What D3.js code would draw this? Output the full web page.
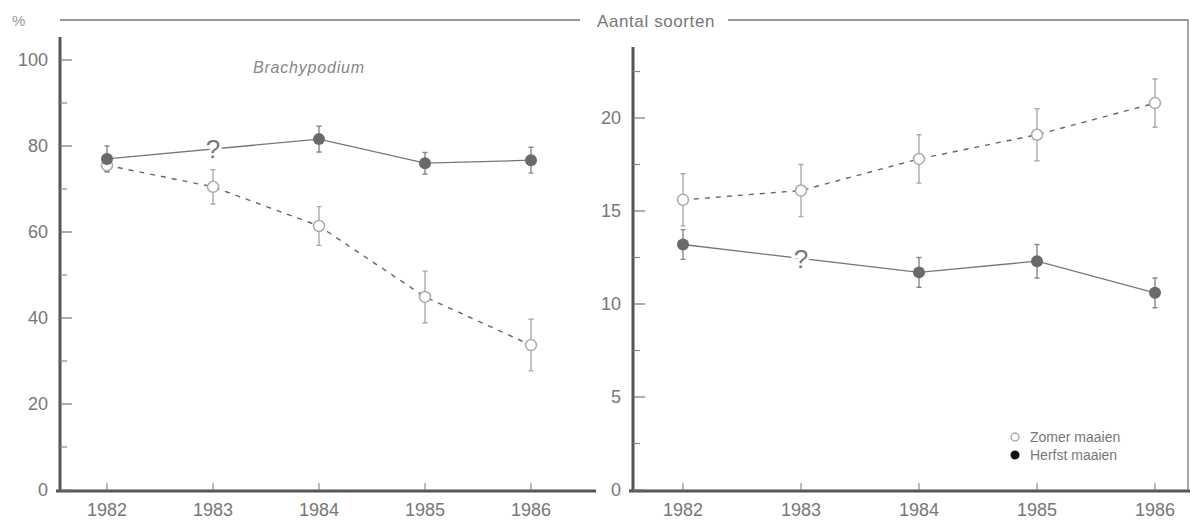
<!DOCTYPE html>
<html>
<head>
<meta charset="utf-8">
<script src="https://cdn.jsdelivr.net/npm/d3@7"></script>
<style>
  body { margin: 0; background: #fff; }
  svg { display: block; font-family: "Liberation Sans", Arial, sans-serif; }
</style>
</head>
<body>
<div id="chart"></div>
<script>
const years = [1982, 1983, 1984, 1985, 1986];

// left panel: % Brachypodium
const brachyZomer     = [75.5, 70.5, 61.4, 44.9, 33.7];
const brachyZomerErr  = [1.5, 4, 4.5, 6, 6];
const brachyHerfst    = [77, null, 81.6, 76, 76.7];
const brachyHerfstErr = [3, null, 3, 2.5, 3];
const leftTicks  = [0, 20, 40, 60, 80, 100];
const leftMinor  = [10, 30, 50, 70, 90];

// right panel: aantal soorten
const soortenZomer     = [15.6, 16.1, 17.8, 19.1, 20.8];
const soortenZomerErr  = [1.4, 1.4, 1.3, 1.4, 1.3];
const soortenHerfst    = [13.2, null, 11.7, 12.3, 10.6];
const soortenHerfstErr = [0.8, null, 0.8, 0.9, 0.8];
const rightTicks = [0, 5, 10, 15, 20];
const rightMinor = [2.5, 7.5, 12.5, 17.5, 22.5];

const width = 1192, height = 524;
const svg = d3.select("#chart").append("svg")
  .attr("width", width).attr("height", height);

const axisCol = "#555", textCol = "#777";

function drawPanel(opt) {
  const g = svg.append("g");
  const x = d3.scaleLinear().domain([1982, 1986]).range(opt.xRange);
  const y = d3.scaleLinear().domain([0, opt.yMax]).range([490, opt.yTopPx]);

  // y axis line
  g.append("line")
    .attr("x1", opt.axisX).attr("x2", opt.axisX)
    .attr("y1", opt.axisTop).attr("y2", 492)
    .attr("stroke", axisCol).attr("stroke-width", 3);
  // x axis line
  g.append("line")
    .attr("x1", opt.axisX - 4).attr("x2", opt.xEnd)
    .attr("y1", 491).attr("y2", 491)
    .attr("stroke", axisCol).attr("stroke-width", 3);

  g.selectAll("line.major").data(opt.ticks).join("line")
    .attr("class", "major")
    .attr("x1", opt.axisX).attr("x2", opt.axisX + 12)
    .attr("y1", d => y(d)).attr("y2", d => y(d))
    .attr("stroke", "#777").attr("stroke-width", 1.2);
  g.selectAll("line.minor").data(opt.minor).join("line")
    .attr("class", "minor")
    .attr("x1", opt.axisX).attr("x2", opt.axisX + 7)
    .attr("y1", d => y(d)).attr("y2", d => y(d))
    .attr("stroke", "#888").attr("stroke-width", 1.2);
  g.selectAll("text.ylab").data(opt.ticks).join("text")
    .attr("class", "ylab")
    .attr("x", opt.axisX - 12).attr("y", d => y(d))
    .attr("dy", "0.35em")
    .attr("text-anchor", "end")
    .attr("font-size", 18).attr("fill", textCol)
    .text(d => d);

  // x ticks + labels
  g.selectAll("line.xt").data(years).join("line")
    .attr("class", "xt")
    .attr("x1", d => x(d)).attr("x2", d => x(d))
    .attr("y1", 483).attr("y2", 490)
    .attr("stroke", "#777").attr("stroke-width", 1);
  g.selectAll("text.xlab").data(years).join("text")
    .attr("class", "xlab")
    .attr("x", d => x(d)).attr("y", 516)
    .attr("text-anchor", "middle")
    .attr("font-size", 18).attr("fill", textCol)
    .text(d => d);

  const pts = (vals, errs) => years.map((yr, i) => ({yr, v: vals[i], e: errs[i]}))
    .filter(d => d.v != null);
  const line = d3.line().x(d => x(d.yr)).y(d => y(d.v));

  // zomer: dashed, open circles
  const zom = pts(opt.zomer, opt.zomerErr);
  g.append("path").datum(zom)
    .attr("d", line).attr("fill", "none")
    .attr("stroke", "#666").attr("stroke-width", 1.4)
    .attr("stroke-dasharray", "5,6");

  // herfst: solid, filled circles
  const her = pts(opt.herfst, opt.herfstErr);
  g.append("path").datum(her)
    .attr("d", line).attr("fill", "none")
    .attr("stroke", "#777").attr("stroke-width", 1.3);

  function errBars(data, col) {
    g.selectAll(null).data(data).join("path")
      .attr("d", d => {
        const cx = x(d.yr), t = y(d.v + d.e), b = y(d.v - d.e);
        return `M${cx},${t}V${b}M${cx - 2.5},${t}H${cx + 2.5}M${cx - 2.5},${b}H${cx + 2.5}`;
      })
      .attr("fill", "none").attr("stroke", col).attr("stroke-width", 1.4);
  }
  errBars(zom, "#aaa");
  errBars(her, "#888");

  g.selectAll(null).data(zom).join("circle")
    .attr("cx", d => x(d.yr)).attr("cy", d => y(d.v)).attr("r", 5.5)
    .attr("fill", "#fff").attr("stroke", "#aaa").attr("stroke-width", 1.5);
  g.selectAll(null).data(her).join("circle")
    .attr("cx", d => x(d.yr)).attr("cy", d => y(d.v)).attr("r", 6)
    .attr("fill", "#6a6a6a");

  // "?" for the missing herfst year, sitting on the line
  years.forEach((yr, i) => {
    if (opt.herfst[i] == null) {
      const mid = (opt.herfst[i - 1] + opt.herfst[i + 1]) / 2;
      g.append("text")
        .attr("x", x(yr)).attr("y", y(mid))
        .attr("dy", "0.35em").attr("text-anchor", "middle")
        .attr("font-size", 26).attr("fill", "#777")
        .attr("stroke", "#fff").attr("stroke-width", 6)
        .attr("paint-order", "stroke")
        .text("?");
    }
  });
  return g;
}

drawPanel({
  xRange: [107, 531], yMax: 100, yTopPx: 60, axisX: 60, axisTop: 37, xEnd: 596,
  ticks: leftTicks, minor: leftMinor,
  zomer: brachyZomer, zomerErr: brachyZomerErr,
  herfst: brachyHerfst, herfstErr: brachyHerfstErr
});
drawPanel({
  xRange: [683, 1155], yMax: 20, yTopPx: 118, axisX: 633, axisTop: 47, xEnd: 1190,
  ticks: rightTicks, minor: rightMinor,
  zomer: soortenZomer, zomerErr: soortenZomerErr,
  herfst: soortenHerfst, herfstErr: soortenHerfstErr
});

// header line, titles, frame on the right
svg.append("path")
  .attr("d", "M60,20H580M728,20H1188V490")
  .attr("fill", "none").attr("stroke", "#777").attr("stroke-width", 1.3);
svg.append("text").attr("x", 12).attr("y", 26)
  .attr("font-size", 15).attr("fill", "#999").text("%");
svg.append("text").attr("x", 597).attr("y", 27)
  .attr("font-size", 17).attr("fill", textCol).attr("letter-spacing", 0.6)
  .text("Aantal soorten");
svg.append("text").attr("x", 253).attr("y", 73)
  .attr("font-size", 16).attr("font-style", "italic").attr("fill", "#888")
  .attr("letter-spacing", 0.8)
  .text("Brachypodium");

// legend
const legend = svg.append("g").attr("transform", "translate(1015,437)");
legend.append("circle").attr("cx", 0).attr("cy", 0).attr("r", 4)
  .attr("fill", "#fff").attr("stroke", "#aaa").attr("stroke-width", 1.3);
legend.append("circle").attr("cx", 0).attr("cy", 18).attr("r", 4.5)
  .attr("fill", "#111");
legend.append("text").attr("x", 15).attr("y", 0).attr("dy", "0.35em")
  .attr("font-size", 14).attr("fill", textCol).text("Zomer maaien");
legend.append("text").attr("x", 15).attr("y", 18).attr("dy", "0.35em")
  .attr("font-size", 14).attr("fill", textCol).text("Herfst maaien");
</script>
</body>
</html>
